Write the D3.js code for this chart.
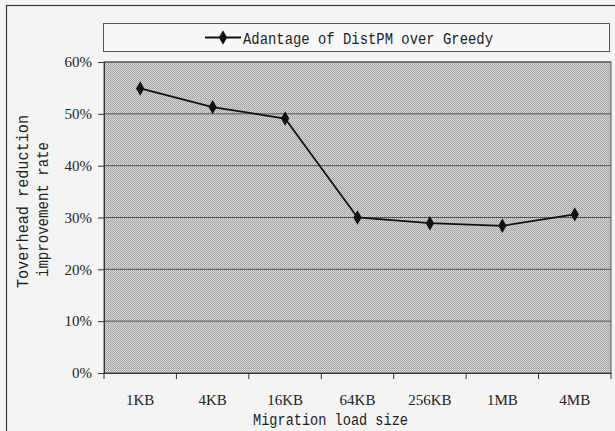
<!DOCTYPE html>
<html>
<head>
<meta charset="utf-8">
<style>
  body { margin: 0; background: #f4f4f4; }
  svg { display: block; }
  .mono { font-family: "Liberation Mono", "DejaVu Sans Mono", monospace; }
  .tick text { font-family: "Liberation Serif", serif; font-size: 15px; fill: #222; }
</style>
</head>
<body>
<svg id="chart" width="615" height="431"></svg>
<script src="https://cdn.jsdelivr.net/npm/d3@7"></script>
<script>
// data
var sizes = ["1KB", "4KB", "16KB", "64KB", "256KB", "1MB", "4MB"];
var advantage = [0.549, 0.513, 0.491, 0.300, 0.289, 0.284, 0.306];
var yTicks = [0, 0.1, 0.2, 0.3, 0.4, 0.5, 0.6];
var seriesName = "Adantage of DistPM over Greedy";

var svg = d3.select("#chart");
var margin = {left: 104, right: 4, top: 62, bottom: 58};
var W = 615, H = 431;

// outer frame
svg.append("rect").attr("x", 6.5).attr("y", 5.5).attr("width", 620).attr("height", 440)
  .attr("fill", "#f4f4f4").attr("stroke", "#333").attr("stroke-width", 1.2);

// stipple pattern for plot area
var defs = svg.append("defs");
var pat = defs.append("pattern").attr("id", "dots").attr("width", 2).attr("height", 2)
  .attr("patternUnits", "userSpaceOnUse");
pat.append("rect").attr("width", 2).attr("height", 2).attr("fill", "#d6d6d6");
pat.append("rect").attr("width", 1).attr("height", 1).attr("fill", "#9e9e9e");
pat.append("rect").attr("x", 1).attr("y", 1).attr("width", 1).attr("height", 1).attr("fill", "#acacac");

var x = d3.scaleBand().domain(sizes).range([margin.left, W - margin.right]);
var y = d3.scaleLinear().domain([0, 0.6]).range([H - margin.bottom, margin.top]);

svg.append("rect")
  .attr("x", margin.left).attr("y", margin.top)
  .attr("width", W - margin.right - margin.left)
  .attr("height", y(0) - y(0.6))
  .attr("fill", "url(#dots)").attr("stroke", "#555");

// gridlines
svg.append("g").selectAll("line").data(yTicks.slice(1)).join("line")
  .attr("x1", margin.left).attr("x2", W - margin.right)
  .attr("y1", d => y(d)).attr("y2", d => y(d))
  .attr("stroke", "#555").attr("stroke-width", 1);

// axes
var yAxis = svg.append("g").attr("transform", "translate(" + margin.left + ",0)")
  .call(d3.axisLeft(y).tickValues(yTicks).tickFormat(d3.format(".0%")).tickSize(6).tickPadding(6));
yAxis.select(".domain").attr("stroke", "#333");
yAxis.selectAll(".tick line").attr("stroke", "#333");

var xAxis = svg.append("g").attr("transform", "translate(0," + y(0) + ")")
  .call(d3.axisBottom(x).tickSize(0).tickPadding(21));
xAxis.select(".domain").attr("stroke", "#333");
// ticks between categories
xAxis.selectAll("line.sep").data(d3.range(sizes.length + 1)).join("line")
  .attr("class", "sep")
  .attr("x1", i => margin.left + i * x.step()).attr("x2", i => margin.left + i * x.step())
  .attr("y1", 0).attr("y2", 6).attr("stroke", "#333");

// line + markers
var pts = sizes.map((s, i) => [x(s) + x.bandwidth() / 2, y(advantage[i])]);
svg.append("path").attr("d", d3.line()(pts))
  .attr("fill", "none").attr("stroke", "#111").attr("stroke-width", 1.8);
var diamond = d3.symbol().type(d3.symbolDiamond).size(60);
svg.append("g").selectAll("path").data(pts).join("path")
  .attr("d", diamond).attr("transform", d => "translate(" + d[0] + "," + d[1] + ")")
  .attr("fill", "#111");

// legend
svg.append("rect").attr("x", 103.5).attr("y", 23.5).attr("width", 506).attr("height", 28)
  .attr("fill", "#f8f8f8").attr("stroke", "#555");
svg.append("line").attr("x1", 205).attr("x2", 241).attr("y1", 37.5).attr("y2", 37.5)
  .attr("stroke", "#111").attr("stroke-width", 1.8);
svg.append("path").attr("d", diamond).attr("transform", "translate(223,37.5)").attr("fill", "#111");
svg.append("text").attr("class", "mono").attr("x", 243).attr("y", 43.5)
  .attr("font-size", 16.5).attr("fill", "#222")
  .attr("textLength", 250).attr("lengthAdjust", "spacingAndGlyphs").text(seriesName);

// axis titles
svg.append("text").attr("class", "mono").attr("x", 253).attr("y", 425)
  .attr("font-size", 16).attr("fill", "#222")
  .attr("textLength", 155).attr("lengthAdjust", "spacingAndGlyphs").text("Migration load size");
var yt = svg.append("text").attr("class", "mono").attr("font-size", 16).attr("fill", "#222")
  .attr("transform", "rotate(-90)");
yt.append("tspan").attr("x", -288).attr("y", 28)
  .attr("textLength", 173).attr("lengthAdjust", "spacingAndGlyphs").text("Toverhead reduction");
yt.append("tspan").attr("x", -277).attr("y", 48)
  .attr("textLength", 135).attr("lengthAdjust", "spacingAndGlyphs").text("improvement rate");
</script>
</body>
</html>
